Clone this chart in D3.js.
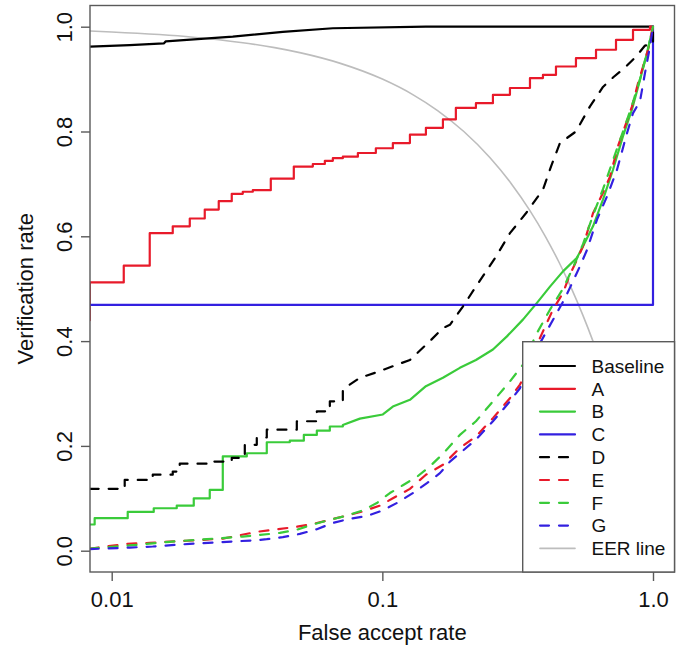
<!DOCTYPE html>
<html><head><meta charset="utf-8">
<script src="https://cdn.jsdelivr.net/npm/d3@7"></script>
<style>html,body{margin:0;padding:0;background:#fff;}svg{display:block;font-family:"Liberation Sans",Arial,Helvetica,sans-serif;}</style>
</head><body>
<svg id="chart" width="686" height="650"></svg>
<script>
// ---------- data (FAR, verification rate) ----------
const xTickValues = [0.01, 0.1, 1.0];
const xTickLabels = ["0.01", "0.1", "1.0"];
const yTickValues = [0.0, 0.2, 0.4, 0.6, 0.8, 1.0];
const yTickLabels = ["0.0", "0.2", "0.4", "0.6", "0.8", "1.0"];
const seriesNames = ["Baseline", "A", "B", "C", "D", "E", "F", "G", "EER line"];

const baseline = [[0.00829,0.962],[0.01166,0.965],[0.01557,0.968],[0.01584,0.972],[0.02801,0.981],[0.04288,0.990],[0.06563,0.997],[0.14486,1.0],[1.0,1.0]];

const seriesA = [[0.00829,0.44],[0.00830,0.512],[0.01108,0.544],[0.01382,0.606],[0.01681,0.619],[0.01943,0.634],[0.02207,0.651],[0.02486,0.667],[0.02777,0.681],[0.03050,0.685],[0.03322,0.688],[0.03871,0.710],[0.04708,0.733],[0.05535,0.738],[0.06131,0.744],[0.06563,0.749],[0.07145,0.752],[0.08120,0.759],[0.09462,0.768],[0.10935,0.778],[0.12644,0.794],[0.14486,0.807],[0.16743,0.823],[0.18690,0.845],[0.22170,0.854],[0.25620,0.870],[0.29610,0.883],[0.35110,0.902],[0.39210,0.908],[0.43800,0.924],[0.51920,0.940],[0.61580,0.956],[0.73000,0.975],[0.84360,0.994],[0.97470,1.0],[1.0,1.0]];

const seriesBSteps = [[0.00829,0.050],[0.00865,0.062],[0.01146,0.074],[0.01430,0.081],[0.01739,0.086],[0.02010,0.100],[0.02303,0.116],[0.02573,0.180],[0.03156,0.186],[0.03741,0.207],[0.04550,0.210],[0.05127,0.221],[0.05727,0.229],[0.06397,0.237],[0.07145,0.240]];
const seriesBRest = [[0.08259,0.252],[0.10043,0.260],[0.10935,0.275],[0.12644,0.288],[0.14486,0.314],[0.16743,0.330],[0.19340,0.349],[0.22170,0.364],[0.25620,0.384],[0.28860,0.409],[0.33070,0.441],[0.37260,0.473],[0.41620,0.504],[0.46490,0.533],[0.52360,0.559],[0.55130,0.581],[0.60020,0.619],[0.65340,0.670],[0.71150,0.727],[0.77470,0.791],[0.83640,0.842],[0.89550,0.899],[0.95050,0.950],[1.0,1.0]];

const seriesC = [[0.008,0.469],[1.0,0.469],[1.0,1.0]];

const seriesDSteps = [[0.00829,0.118],[0.01117,0.135],[0.01418,0.145],[0.01681,0.151],[0.01784,0.166],[0.02363,0.170],[0.02777,0.177],[0.03103,0.202],[0.03436,0.216],[0.03741,0.231],[0.04830,0.247],[0.05727,0.266],[0.06397,0.285],[0.07145,0.308]];
const seriesDRest = [[0.08259,0.330],[0.09462,0.340],[0.10935,0.352],[0.12644,0.364],[0.14988,0.400],[0.16743,0.425],[0.17770,0.431],[0.19840,0.466],[0.22170,0.504],[0.26280,0.561],[0.29610,0.606],[0.33930,0.644],[0.39210,0.689],[0.41980,0.733],[0.45310,0.778],[0.51920,0.800],[0.58510,0.848],[0.65340,0.885],[0.71150,0.903],[0.79480,0.924],[0.86560,0.943],[0.93440,0.964],[1.0,0.966],[1.0,1.0]];

const seriesE = [[0.00829,0.004],[0.01136,0.013],[0.01382,0.015],[0.01894,0.019],[0.02573,0.023],[0.03436,0.036],[0.04074,0.041],[0.04748,0.045],[0.05535,0.051],[0.06397,0.059],[0.07393,0.067],[0.08473,0.075],[0.09790,0.086],[0.10935,0.100],[0.12644,0.118],[0.14486,0.145],[0.16743,0.164],[0.19340,0.196],[0.22170,0.218],[0.25620,0.253],[0.29610,0.291],[0.32240,0.317],[0.35110,0.355],[0.38220,0.406],[0.42700,0.460],[0.46490,0.492],[0.49340,0.527],[0.52360,0.555],[0.55130,0.581],[0.60020,0.644],[0.65340,0.683],[0.69350,0.714],[0.74250,0.772],[0.78800,0.810],[0.83640,0.848],[0.88040,0.892],[0.91860,0.924],[0.95870,0.956],[1.0,1.0]];

const seriesF = [[0.00829,0.004],[0.01166,0.010],[0.01638,0.017],[0.02245,0.022],[0.03050,0.027],[0.03525,0.030],[0.04180,0.034],[0.04830,0.040],[0.05535,0.050],[0.06397,0.059],[0.07393,0.067],[0.08473,0.077],[0.09543,0.091],[0.10660,0.110],[0.11907,0.125],[0.13418,0.141],[0.14988,0.161],[0.16743,0.185],[0.19340,0.221],[0.22170,0.247],[0.25620,0.285],[0.29610,0.323],[0.33070,0.355],[0.36950,0.412],[0.41620,0.460],[0.46490,0.500],[0.50620,0.540],[0.55130,0.585],[0.60020,0.640],[0.65340,0.690],[0.71150,0.745],[0.77470,0.800],[0.83640,0.850],[0.89550,0.900],[0.95050,0.950],[1.0,1.0]];

const seriesG = [[0.00829,0.003],[0.01166,0.006],[0.01418,0.008],[0.01943,0.013],[0.02662,0.017],[0.03436,0.020],[0.03741,0.022],[0.04288,0.026],[0.04955,0.032],[0.05727,0.041],[0.06563,0.053],[0.07585,0.061],[0.08765,0.066],[0.10043,0.077],[0.11314,0.091],[0.12971,0.110],[0.14610,0.129],[0.16320,0.148],[0.17770,0.170],[0.19340,0.186],[0.22170,0.212],[0.25620,0.247],[0.29610,0.285],[0.32240,0.310],[0.38220,0.396],[0.44170,0.454],[0.47290,0.482],[0.50620,0.514],[0.53740,0.543],[0.57030,0.574],[0.62100,0.632],[0.67600,0.676],[0.73620,0.727],[0.80160,0.797],[0.84360,0.835],[0.89550,0.858],[0.93440,0.912],[0.97470,0.962],[1.0,1.0]];

const eerLine = [[0.0083,0.9917],[0.01,0.99],[0.015,0.985],[0.02,0.98],[0.03,0.97],[0.04,0.96],[0.05,0.95],[0.07,0.93],[0.1,0.9],[0.13,0.87],[0.16,0.84],[0.2,0.8],[0.25,0.75],[0.3,0.7],[0.35,0.65],[0.4,0.6],[0.45,0.55],[0.5,0.5],[0.55,0.45],[0.6,0.4],[0.65,0.35],[0.7,0.3],[0.75,0.25],[0.8,0.2],[0.85,0.15],[0.9,0.1],[0.95,0.05],[1.0,0.0]];

// ---------- helpers ----------
function stairs(pts){ const out=[]; pts.forEach((p,i)=>{ if(i>0) out.push([p[0], pts[i-1][1]]); out.push(p); }); return out; }

const colors = {black:"#000000", red:"#e81a2a", green:"#3acb3a", blue:"#3320e0", gray:"#bdbdbd"};
const styles = [
  {name:"Baseline", color:colors.black, dash:null},
  {name:"A", color:colors.red, dash:null},
  {name:"B", color:colors.green, dash:null},
  {name:"C", color:colors.blue, dash:null},
  {name:"D", color:colors.black, dash:"9,10"},
  {name:"E", color:colors.red, dash:"9,10"},
  {name:"F", color:colors.green, dash:"9,10"},
  {name:"G", color:colors.blue, dash:"9,10"},
  {name:"EER line", color:colors.gray, dash:null, width:1.6}
];

// ---------- layout ----------
const svg = d3.select("#chart");
const box = {left:90, right:674.5, top:5.5, bottom:572};
const x = d3.scaleLog().domain([0.01, 1]).range([111.7, 653]);
const y = d3.scaleLinear().domain([0, 1]).range([550.7, 26.7]);

svg.append("defs").append("clipPath").attr("id","clip")
  .append("rect").attr("x",box.left).attr("y",box.top)
  .attr("width",box.right-box.left).attr("height",box.bottom-box.top);

const plot = svg.append("g").attr("clip-path","url(#clip)");
const line = d3.line().x(d=>x(d[0])).y(d=>y(d[1]));
const smooth = d3.line().x(d=>x(d[0])).y(d=>y(d[1])).curve(d3.curveMonotoneX);

function draw(data, st, gen){
  plot.append("path").datum(data).attr("d", gen||line)
    .attr("fill","none").attr("stroke",st.color)
    .attr("stroke-width", st.width||2.2)
    .attr("stroke-linecap", "round").attr("stroke-linejoin","round")
    .attr("stroke-dasharray", st.dash);
}

draw(eerLine, styles[8], smooth);
draw(baseline, styles[0]);
draw(stairs(seriesA), styles[1]);
draw(stairs(seriesBSteps).concat(seriesBRest), styles[2]);
draw(seriesC, styles[3]);
draw(stairs(seriesDSteps).concat(seriesDRest), styles[4]);
draw(seriesE, styles[5]);
draw(seriesF, styles[6]);
draw(seriesG, styles[7]);

// box
svg.append("rect").attr("x",box.left).attr("y",box.top)
  .attr("width",box.right-box.left).attr("height",box.bottom-box.top)
  .attr("fill","none").attr("stroke","#5a5a5a").attr("stroke-width",1.4);

// x axis
const xAxis = svg.append("g").attr("transform",`translate(0,${box.bottom})`)
  .call(d3.axisBottom(x).tickValues(xTickValues).tickFormat((d,i)=>xTickLabels[i]).tickSize(9).tickPadding(8));
xAxis.select(".domain").remove();
xAxis.selectAll(".tick line").attr("stroke","#5a5a5a").attr("stroke-width",1.4);
xAxis.selectAll(".tick text").attr("font-size",22).attr("fill","#111")
  .attr("font-family",'"Liberation Sans",Arial,sans-serif').attr("dy","0").attr("y",35);

// y axis
const yAxis = svg.append("g").attr("transform",`translate(${box.left},0)`)
  .call(d3.axisLeft(y).tickValues(yTickValues).tickFormat((d,i)=>yTickLabels[i]).tickSize(9));
yAxis.select(".domain").remove();
yAxis.selectAll(".tick line").attr("stroke","#5a5a5a").attr("stroke-width",1.4);
yAxis.selectAll(".tick text").attr("font-size",22).attr("fill","#111")
  .attr("font-family",'"Liberation Sans",Arial,sans-serif')
  .attr("x",null).attr("dy",null)
  .attr("text-anchor","middle")
  .attr("transform","translate(-18,0) rotate(-90)");

// axis titles
svg.append("text").attr("x",(box.left+box.right)/2).attr("y",640)
  .attr("text-anchor","middle").attr("font-size",22).attr("fill","#111").text("False accept rate");
svg.append("text").attr("transform",`translate(33,${(box.top+box.bottom)/2}) rotate(-90)`)
  .attr("text-anchor","middle").attr("font-size",22).attr("fill","#111").text("Verification rate");

// legend
const lg = {x:522.7, y:341.7, w:box.right-522.7, h:box.bottom-341.7, row0:366, step:22.8};
svg.append("rect").attr("x",lg.x).attr("y",lg.y).attr("width",lg.w).attr("height",lg.h)
  .attr("fill","#fff").attr("stroke","#5a5a5a").attr("stroke-width",1.4);
styles.forEach((st,i)=>{
  const yy = lg.row0 + i*lg.step;
  svg.append("line").attr("x1",540).attr("x2",575).attr("y1",yy).attr("y2",yy)
    .attr("stroke",st.color).attr("stroke-width",st.width||2.2)
    .attr("stroke-dasharray",st.dash).attr("stroke-linecap","round");
  svg.append("text").attr("x",591.5).attr("y",yy+6.8).attr("font-size",19).attr("fill","#111").text(seriesNames[i]);
});
</script>
</body></html>
